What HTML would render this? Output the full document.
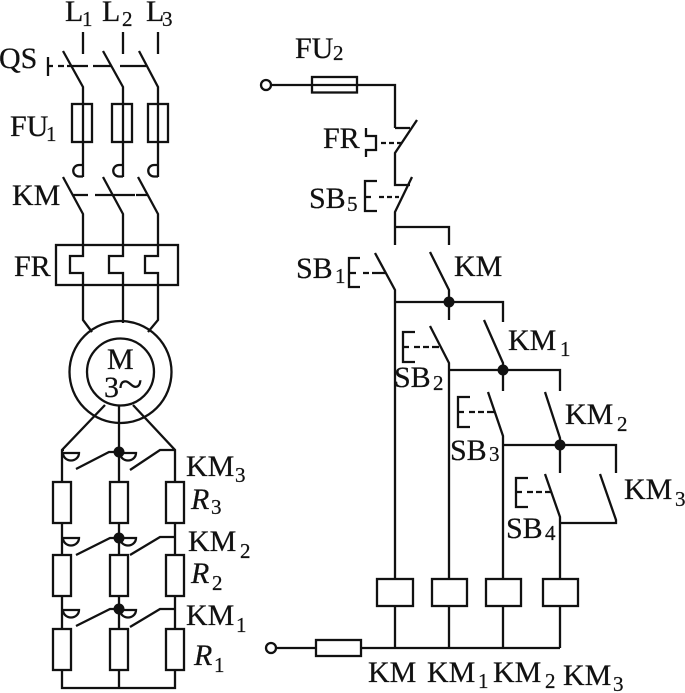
<!DOCTYPE html>
<html><head><meta charset="utf-8"><style>
html,body{margin:0;padding:0;background:#fff}
svg{display:block}
text{font-family:"Liberation Serif",serif;font-size:30px;fill:#111;stroke:#111;stroke-width:.25}
.s{font-size:21px}
.i{font-style:italic}
</style></head><body>
<svg width="685" height="693" viewBox="0 0 685 693" xmlns="http://www.w3.org/2000/svg">
<g fill="none" stroke="#111" stroke-width="2.300">
<!-- left power circuit -->
<path d="M83 32V54M123 32V54M158 32V54"/>
<path d="M63 51L83 87V177M103 51L123 87V177M139 51L158 87V177"/>
<path d="M48 57V76M48 66H53M58 66H64M67 66H88M93 66H112M120 66H146"/>
<rect x="72" y="104" width="20" height="38"/><rect x="112" y="104" width="20" height="38"/><rect x="148" y="104" width="20" height="38"/>
<path d="M83 165H79A5.500 5.500 0 0 0 79 176.500H83M123 165H119A5.500 5.500 0 0 0 119 176.500H123M158 165H154A5.500 5.500 0 0 0 154 176.500H158"/>
<path d="M63 177L83 214V256H70V273H83V320L92 332M103 177L123 214V256H109V273H123V323M138 177L158 214V256H145V273H158V320L148 332"/>
<path d="M73 195H88M95 195H135M136 195H147"/>
<rect x="56" y="245" width="122" height="40"/>
<circle cx="120.500" cy="372" r="51"/><circle cx="120.500" cy="372" r="33.500"/>
<path d="M105 405L62 450V482M133 405L175 450V482M119 405V482M62 450H64M175 450H160L130 470M119 452H109L76 469"/>
<rect x="53" y="482" width="18" height="41"/><rect x="110" y="482" width="18" height="41"/><rect x="166" y="482" width="18" height="41"/>
<path d="M62 523V555M119 523V555M175 523V555"/>
<rect x="53" y="555" width="18" height="41"/><rect x="110" y="555" width="18" height="41"/><rect x="166" y="555" width="18" height="41"/>
<path d="M62 596V629M119 596V629M175 596V629"/>
<rect x="53" y="629" width="18" height="41"/><rect x="110" y="629" width="18" height="41"/><rect x="166" y="629" width="18" height="41"/>
<path d="M62 670V688H175V670M119 670V688"/>
<path d="M76 555L110 538H119M130 555L160 537H175M76 626L110 609H119M130 627L160 609H175"/>
<path d="M63 453H79A8 7.500 0 0 1 63 453ZM120 453H136A8 7.500 0 0 1 120 453ZM63 538H79A8 7.500 0 0 1 63 538ZM120 538H136A8 7.500 0 0 1 120 538ZM63 610H79A8 7.500 0 0 1 63 610ZM120 610H136A8 7.500 0 0 1 120 610Z"/>
<!-- right control circuit -->
<circle cx="266" cy="85" r="5"/>
<path d="M271 85H395V128"/>
<rect x="312" y="77" width="45" height="15.500"/>
<path d="M395 128H410M417 120L395 153V185H410M412 177L395 212V245M395 227H449V245"/>
<path d="M366 128V136H376V150H366V157M381 143H386M389 143H394M397 143H401"/>
<path d="M377 181H365V211H377M365 197H371M379 197H384M387 197H392M395 197H399"/>
<path d="M375 253L395 290V648M430 252L449 290V320M395 302H503V322"/>
<path d="M360 258H349V287H360M349 273H356M363 273H369M372 273H385"/>
<path d="M415 332H403V362H415M403 347H409M414 347H420M423 347H429M432 347H439"/>
<path d="M430 326L449 363V648M484 320L503 363V391M449 370H560V391"/>
<path d="M470 397H458V427H470M458 412H464M469 412H475M478 412H484M487 412H495"/>
<path d="M488 392L503 436V648M545 392L560 438V473M503 445H616V473"/>
<path d="M528 478H516V507H528M516 492H522M527 492H533M536 492H542M545 492H551"/>
<path d="M545 474L560 517V648M600 474L616 520V523H560"/>
<rect x="377" y="579" width="36" height="27" fill="#fff"/><rect x="432" y="579" width="35" height="27" fill="#fff"/><rect x="486" y="579" width="35" height="27" fill="#fff"/><rect x="543" y="579" width="35" height="27" fill="#fff"/>
<circle cx="271" cy="648" r="5"/>
<path d="M276 648H560"/>
<rect x="316" y="640" width="45" height="16" fill="#fff"/>
</g>
<g fill="#111">
<circle cx="119" cy="452" r="5.500"/><circle cx="119" cy="538" r="5.500"/><circle cx="119" cy="609" r="5.500"/>
<circle cx="449" cy="302" r="5.500"/><circle cx="503" cy="370" r="5.500"/><circle cx="560" cy="445" r="5.500"/>
</g>
<text x="65" y="21">L</text><text class="s" x="82" y="26">1</text>
<text x="102" y="21">L</text><text class="s" x="122" y="26">2</text>
<text x="146" y="21">L</text><text class="s" x="162" y="26">3</text>
<text x="-1" y="68">QS</text>
<text x="10" y="136">FU</text><text class="s" x="46" y="141">1</text>
<text x="12" y="205">KM</text>
<text x="14" y="276">FR</text>
<text x="107" y="369">M</text>
<text x="104" y="397">3</text><text x="118" y="399" style="font-size:46px;stroke-width:0">~</text>
<text x="186" y="476">KM</text><text class="s" x="235" y="482">3</text>
<text class="i" x="191" y="509">R</text><text class="s" x="211" y="514">3</text>
<text x="188" y="551">KM</text><text class="s" x="240" y="558">2</text>
<text class="i" x="191" y="583">R</text><text class="s" x="212" y="590">2</text>
<text x="186" y="625">KM</text><text class="s" x="236" y="632">1</text>
<text class="i" x="194" y="665">R</text><text class="s" x="214" y="672">1</text>
<text x="295" y="58">FU</text><text class="s" x="333" y="60">2</text>
<text x="323" y="148">FR</text>
<text x="309" y="208">SB</text><text class="s" x="347" y="211">5</text>
<text x="296" y="278">SB</text><text class="s" x="335" y="283">1</text>
<text x="454" y="276">KM</text>
<text x="508" y="350">KM</text><text class="s" x="560" y="356">1</text>
<text x="394" y="387">SB</text><text class="s" x="433" y="390">2</text>
<text x="450" y="460">SB</text><text class="s" x="489" y="461">3</text>
<text x="565" y="424">KM</text><text class="s" x="617" y="431">2</text>
<text x="506" y="538">SB</text><text class="s" x="545" y="540">4</text>
<text x="624" y="499">KM</text><text class="s" x="675" y="506">3</text>
<text x="368" y="682">KM</text>
<text x="427" y="682">KM</text><text class="s" x="478" y="688">1</text>
<text x="493" y="682">KM</text><text class="s" x="545" y="688">2</text>
<text x="563" y="685">KM</text><text class="s" x="613" y="691">3</text>
</svg>
</body></html>
